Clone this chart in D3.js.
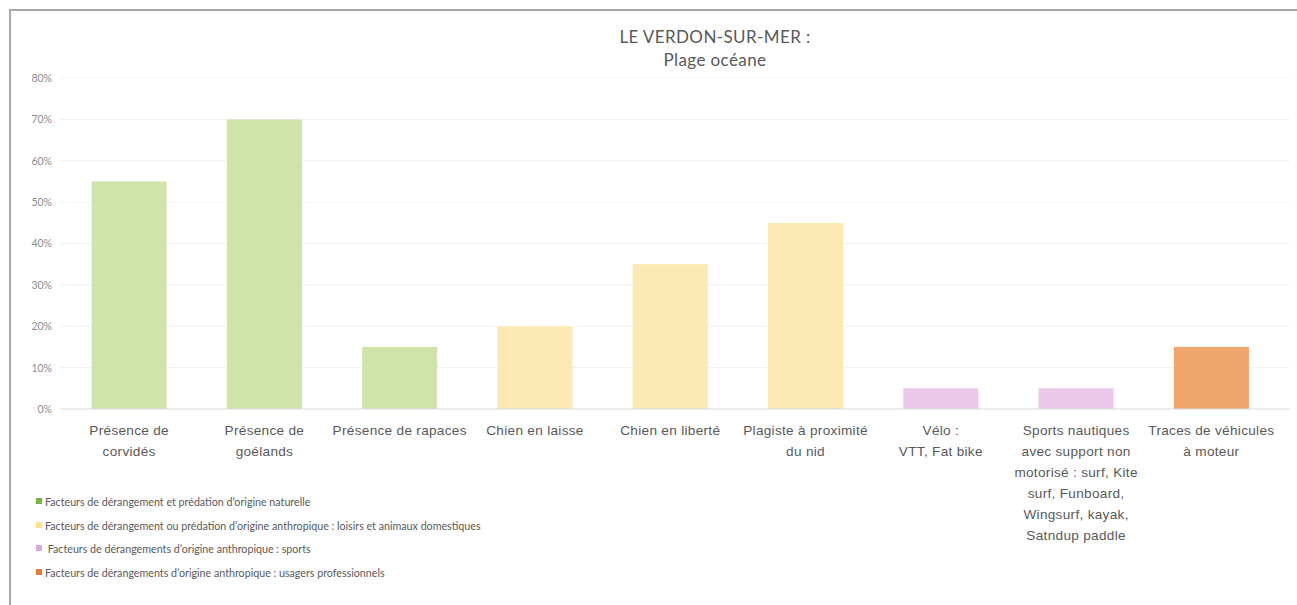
<!DOCTYPE html>
<html>
<head>
<meta charset="utf-8">
<script src="https://cdn.jsdelivr.net/npm/d3@7"></script>
<style>
  body { margin: 0; background: #fff; }
  svg { display: block; font-family: Lato, "Open Sans", sans-serif; }
</style>
</head>
<body>
<svg id="chart" width="1297" height="605"></svg>
<script>
var categories = [
  'Présence de\ncorvidés',
  'Présence de\ngoélands',
  'Présence de rapaces',
  'Chien en laisse',
  'Chien en liberté',
  'Plagiste à proximité\ndu nid',
  'Vélo :\nVTT, Fat bike',
  'Sports nautiques\navec support non\nmotorisé : surf, Kite\nsurf, Funboard,\nWingsurf, kayak,\nSatndup paddle',
  'Traces de véhicules\nà moteur'
]
var values = [0.55, 0.70, 0.15, 0.20, 0.35, 0.45, 0.05, 0.05, 0.15]
var groups = [0, 0, 0, 1, 1, 1, 2, 2, 3]
var groupNames = [
  'Facteurs de dérangement et prédation d\u2019origine naturelle',
  'Facteurs de dérangement ou prédation d\u2019origine anthropique : loisirs et animaux domestiques',
  ' Facteurs de dérangements d\u2019origine anthropique : sports',
  'Facteurs de dérangements d\u2019origine anthropique : usagers professionnels'
]
var yTicks = [0, 0.1, 0.2, 0.3, 0.4, 0.5, 0.6, 0.7, 0.8]
var titleLines = ['LE VERDON-SUR-MER :', 'Plage océane']

var barColors = ['#d0e4a9', '#fde9b3', '#ebc8ea', '#f0a56c']
var keyColors = ['#70b844', '#ffe28a', '#dba8db', '#ee7a33']

var svg = d3.select('#chart')

// frame (top and left edges only, as in the picture)
svg.append('path')
  .attr('d', 'M10,605 L10,10 L1297,10')
  .attr('fill', 'none')
  .attr('stroke', '#a6a6a6')
  .attr('stroke-width', 2)

var x = d3.scaleBand()
  .domain(categories)
  .range([61.5, 1279])
  .paddingInner(0.445)
  .paddingOuter(0.2225)

var y = d3.scaleLinear()
  .domain([0, 0.8])
  .range([409, 78])

var grid = svg.append('g')
grid.selectAll('line.grid').data(yTicks.slice(1))
  .enter().append('line').attr('class', 'grid')
  .attr('x1', 60).attr('x2', 1290)
  .attr('y1', function(d) { return y(d) })
  .attr('y2', function(d) { return y(d) })
  .attr('stroke', '#f2f2f2')
  .attr('stroke-width', 1)

var yAxis = svg.append('g')
  .attr('transform', 'translate(55,0)')
  .call(d3.axisLeft(y).tickValues(yTicks).tickFormat(d3.format('.0%')).tickSize(0))
yAxis.select('.domain').remove()
yAxis.selectAll('text')
  .attr('fill', '#8c8c8c')
  .attr('font-size', 10.5)
  .attr('font-family', 'Lato, "Open Sans", sans-serif')

svg.selectAll('rect.bar').data(values)
  .enter().append('rect').attr('class', 'bar')
  .attr('x', function(d, i) { return x(categories[i]) })
  .attr('width', x.bandwidth())
  .attr('y', function(d) { return y(d) })
  .attr('height', function(d) { return y(0) - y(d) })
  .attr('fill', function(d, i) { return barColors[groups[i]] })

svg.append('line')
  .attr('x1', 60).attr('x2', 1290)
  .attr('y1', y(0)).attr('y2', y(0))
  .attr('stroke', '#d9d9d9')
  .attr('stroke-width', 1.2)

var xAxis = svg.append('g')
  .attr('transform', 'translate(0,' + y(0) + ')')
  .call(d3.axisBottom(x).tickSize(0).tickFormat(''))
xAxis.select('.domain').remove()

xAxis.selectAll('.tick').each(function(d) {
  var t = d3.select(this).append('text')
    .attr('fill', '#595959')
    .attr('font-size', 13.6)
    .attr('text-anchor', 'middle')
    .attr('letter-spacing', 0.3)
  d.split('\n').forEach(function(line, k) {
    t.append('tspan').attr('x', 0).attr('y', 26 + k * 21).text(line)
  })
})

var title = svg.append('text')
  .attr('text-anchor', 'middle')
  .attr('fill', '#595959')
  .attr('font-size', 17)
  .attr('letter-spacing', 0.4)
titleLines.forEach(function(line, k) {
  title.append('tspan').attr('x', 715).attr('y', 43 + k * 23).text(line)
})

var legend = svg.append('g')
var ly = [502, 526, 549, 573]
legend.selectAll('rect').data(groupNames)
  .enter().append('rect')
  .attr('x', 36).attr('y', function(d, i) { return ly[i] - 4 })
  .attr('width', 6).attr('height', 6)
  .attr('fill', function(d, i) { return keyColors[i] })
legend.selectAll('text').data(groupNames)
  .enter().append('text')
  .attr('x', 45).attr('y', function(d, i) { return ly[i] + 3.5 })
  .attr('fill', '#595959')
  .attr('font-size', 10.7)
  .attr('xml:space', 'preserve')
  .style('white-space', 'pre')
  .text(function(d) { return d })
</script>
</body>
</html>
